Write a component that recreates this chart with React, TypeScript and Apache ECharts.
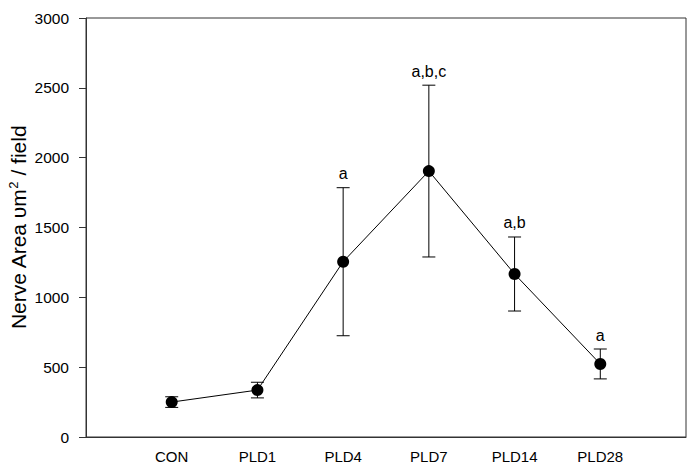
import React, { useEffect, useRef } from "react";
import * as echarts from "echarts";

const categories = ["CON", "PLD1", "PLD4", "PLD7", "PLD14", "PLD28"];
const means = [250, 336, 1255, 1904, 1167, 523];
const errors = [38, 56, 530, 615, 265, 107];
const sigLabels = ["", "", "a", "a,b,c", "a,b", "a"];
const yTicks = [0, 500, 1000, 1500, 2000, 2500, 3000];

const FONT = "Liberation Sans, Arial, sans-serif";

export default function App() {
  const ref = useRef<HTMLDivElement>(null);
  useEffect(() => {
    if (!ref.current) return;
    const chart = echarts.init(ref.current, null, { renderer: "svg" });
    const pts = means.map((m, i) => [i + 1, m]);
    const errData = means.map((m, i) => [i + 1, m - errors[i], m + errors[i], i]);
    chart.setOption({
      animation: false,
      backgroundColor: "#fff",
      grid: {
        left: 86,
        top: 18,
        width: 600,
        height: 419,
        show: true,
        borderColor: "#333",
        borderWidth: 1,
        containLabel: false,
        outerBoundsMode: "none",
      },
      xAxis: {
        type: "value",
        min: 0,
        max: 7,
        interval: 1,
        axisLine: { show: true, lineStyle: { color: "#333" } },
        axisTick: { show: false },
        splitLine: { show: false },
        axisLabel: {
          color: "#000",
          fontFamily: FONT,
          fontSize: 15,
          margin: 12,
          formatter: (v: number) => (v >= 1 && v <= categories.length ? categories[v - 1] : ""),
        },
      },
      yAxis: {
        type: "value",
        min: 0,
        max: 3000,
        interval: 500,
        name: "Nerve Area υm{sup|2} / field",
        nameLocation: "middle",
        nameGap: 56,
        nameMoveOverlap: false,
        nameTextStyle: {
          color: "#000",
          fontFamily: FONT,
          fontSize: 21,
          rich: {
            sup: { fontSize: 13, fontFamily: FONT, color: "#000", verticalAlign: "top", padding: [0, 0, 10, 0] },
          },
        },
        axisLine: { show: true, lineStyle: { color: "#333" } },
        axisTick: { show: true, length: 7, lineStyle: { color: "#333" } },
        splitLine: { show: false },
        axisLabel: {
          color: "#000",
          fontFamily: FONT,
          fontSize: 15.5,
          margin: 17,
          formatter: (v: number) => (yTicks.includes(v) ? String(v) : ""),
        },
      },
      series: [
        {
          type: "custom",
          z: 3,
          data: errData,
          renderItem: (params: any, api: any) => {
            const x = api.value(0);
            const lo = api.coord([x, api.value(1)]);
            const hi = api.coord([x, api.value(2)]);
            const idx = api.value(3);
            const hw = 6.5;
            const st = { stroke: "#000", lineWidth: 1 };
            const children: any[] = [
              { type: "line", shape: { x1: lo[0], y1: lo[1], x2: hi[0], y2: hi[1] }, style: st },
              { type: "line", shape: { x1: lo[0] - hw, y1: lo[1], x2: lo[0] + hw, y2: lo[1] }, style: st },
              { type: "line", shape: { x1: hi[0] - hw, y1: hi[1], x2: hi[0] + hw, y2: hi[1] }, style: st },
            ];
            const lab = sigLabels[idx];
            if (lab) {
              children.push({
                type: "text",
                style: {
                  text: lab,
                  x: hi[0],
                  y: hi[1] - 6,
                  align: "center",
                  verticalAlign: "bottom",
                  fill: "#000",
                  font: `16px ${FONT}`,
                },
              });
            }
            return { type: "group", children };
          },
        },
        {
          type: "line",
          z: 4,
          data: pts,
          symbol: "circle",
          symbolSize: 12,
          itemStyle: { color: "#000" },
          lineStyle: { color: "#000", width: 1 },
        },
      ],
    });
    return () => chart.dispose();
  }, []);
  return <div ref={ref} style={{ width: 696, height: 471, margin: -8 }} />;
}
